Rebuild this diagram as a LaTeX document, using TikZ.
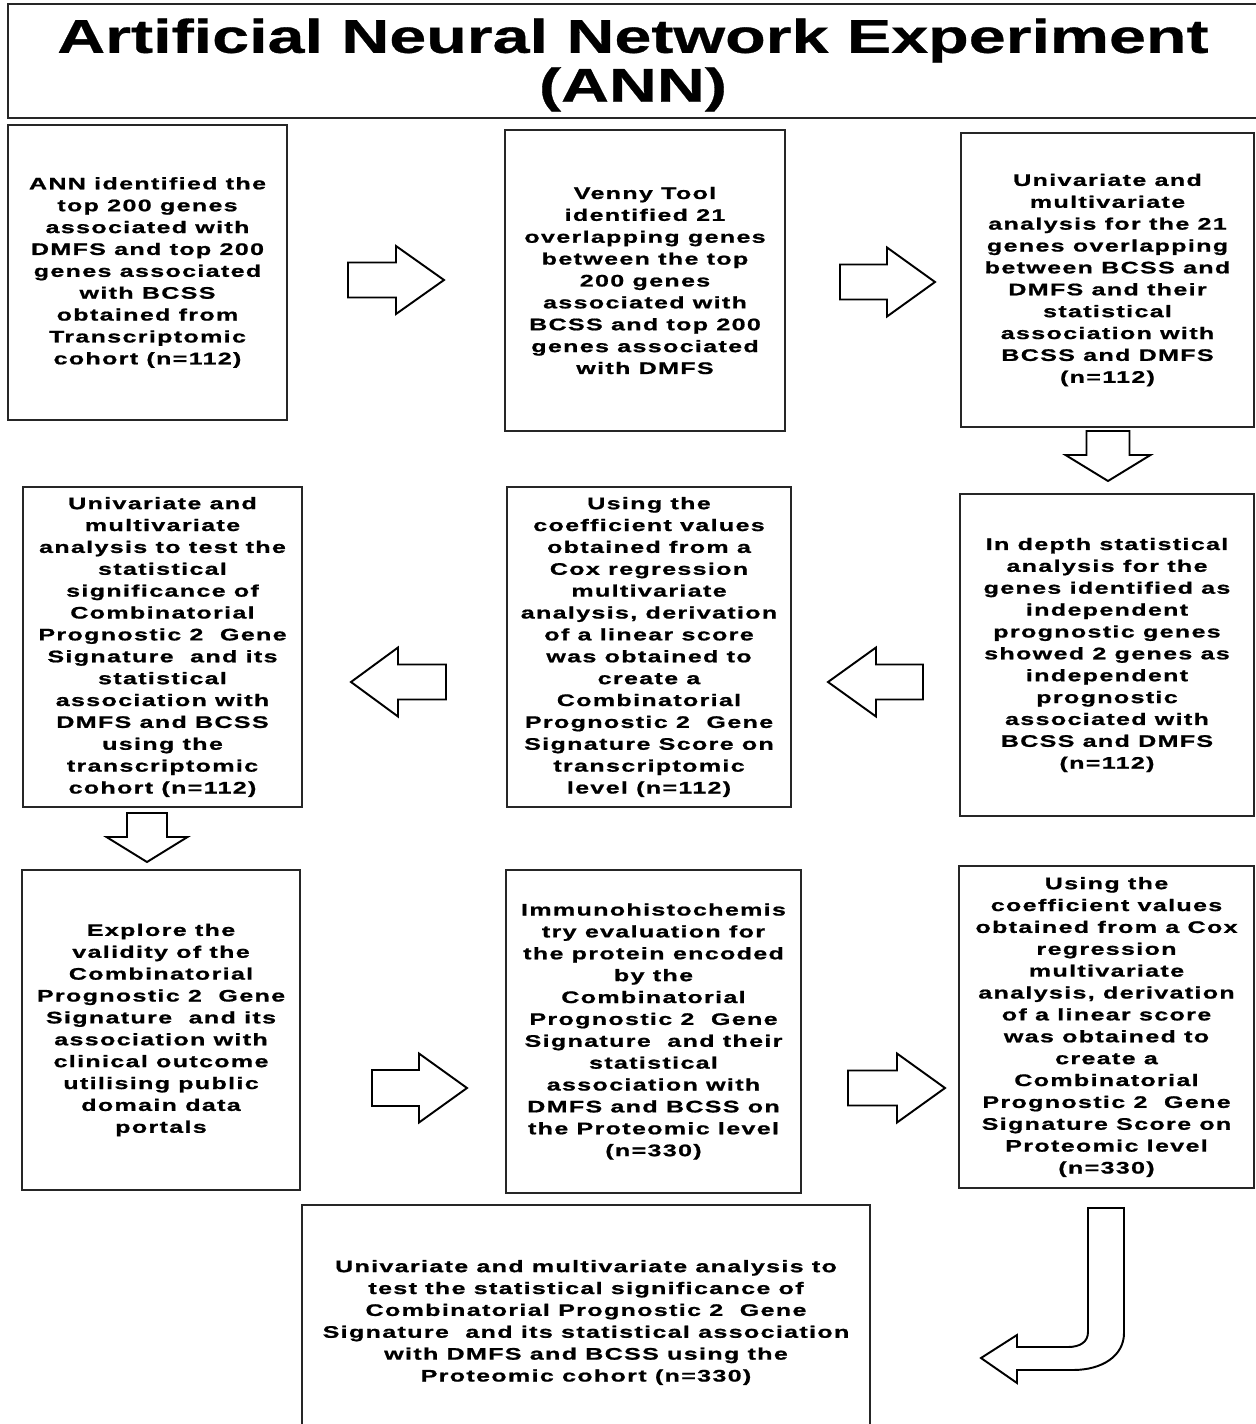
\documentclass[tikz,border=0pt]{standalone}
\usepackage{fontspec}
\newfontfamily\boxfont{Liberation Sans}[FakeStretch=1.5,LetterSpace=8,FakeBold=1]
\newfontfamily\titlefont{Liberation Sans}[FakeStretch=1.4,FakeBold=0.6]
\newcommand\px{0.02cm}
\tikzstyle{stepbox}=[draw=black!85, line width=1pt, inner sep=0pt, align=center,
  font=\boxfont\bfseries\fontsize{9.5}{12.45}\selectfont]
\tikzset{blockline/.style={draw=black, line width=1.1pt, fill=white, line join=miter}}
\tikzset{pics/blk/.style n args={4}{code={%
  \draw[blockline] (0,-#3) -- (#2,-#3) -- (#2,-#4) -- (#1,0) -- (#2,#4) -- (#2,#3) -- (0,#3) -- cycle;}}}

\begin{document}
\begin{tikzpicture}[x=\px, y=-\px]
  \useasboundingbox (0,0) rectangle (1256,1424);
  %% Title
  \draw[draw=black!85, line width=1pt] (8,4) rectangle (1258,118);
  \draw (633,65) node[align=center, inner sep=0pt,
    font=\titlefont\bfseries\fontsize{27}{27.8}\selectfont] (title)
    {Artificial Neural Network Experiment\\(ANN)};

  %% First row
  \draw (147.5,272.5) node[stepbox, minimum width=279*\px, minimum height=295*\px] (ann)
    {ANN identified the\\top 200 genes\\associated with\\DMFS and top 200\\genes associated\\with BCSS\\obtained from\\Transcriptomic\\cohort (n=112)};
  \draw (645,280.5) node[stepbox, minimum width=280*\px, minimum height=301*\px] (venny)
    {Venny Tool\\identified 21\\overlapping genes\\between the top\\200 genes\\associated with\\BCSS and top 200\\genes associated\\with DMFS};
  \draw (1107.5,280) node[stepbox, minimum width=293*\px, minimum height=294*\px] (uniovl)
    {Univariate and\\multivariate\\analysis for the 21\\genes overlapping\\between BCSS and\\DMFS and their\\statistical\\association with\\BCSS and DMFS\\(n=112)};

  %% Second row
  \draw (162.5,647) node[stepbox, minimum width=279*\px, minimum height=320*\px] (unitrans)
    {Univariate and\\multivariate\\analysis to test the\\statistical\\significance of\\Combinatorial\\Prognostic 2~ Gene\\Signature~ and its\\statistical\\association with\\DMFS and BCSS\\using the\\transcriptomic\\cohort (n=112)};
  \draw (649,647) node[stepbox, minimum width=284*\px, minimum height=320*\px] (scoretrans)
    {Using the\\coefficient values\\obtained from a\\Cox regression\\multivariate\\analysis, derivation\\of a linear score\\was obtained to\\create a\\Combinatorial\\Prognostic 2~ Gene\\Signature Score on\\transcriptomic\\level (n=112)};
  \draw (1107,655) node[stepbox, minimum width=294*\px, minimum height=322*\px] (indep)
    {In depth statistical\\analysis for the\\genes identified as\\independent\\prognostic genes\\showed 2 genes as\\independent\\prognostic\\associated with\\BCSS and DMFS\\(n=112)};

  %% Third row
  \draw (161,1030) node[stepbox, minimum width=278*\px, minimum height=320*\px] (explore)
    {Explore the\\validity of the\\Combinatorial\\Prognostic 2~ Gene\\Signature~ and its\\association with\\clinical outcome\\utilising public\\domain data\\portals};
  \draw (653.5,1031.5) node[stepbox, minimum width=295*\px, minimum height=323*\px] (ihc)
    {Immunohistochemis\\try evaluation for\\the protein encoded\\by the\\Combinatorial\\Prognostic 2~ Gene\\Signature~ and their\\statistical\\association with\\DMFS and BCSS on\\the Proteomic level\\(n=330)};
  \draw (1106.5,1027) node[stepbox, minimum width=295*\px, minimum height=322*\px] (scoreprot)
    {Using the\\coefficient values\\obtained from a Cox\\regression\\multivariate\\analysis, derivation\\of a linear score\\was obtained to\\create a\\Combinatorial\\Prognostic 2~ Gene\\Signature Score on\\Proteomic level\\(n=330)};

  %% Last row
  \draw (586,1322.5) node[stepbox, minimum width=568*\px, minimum height=235*\px] (uniprot)
    {Univariate and multivariate analysis to\\test the statistical significance of\\Combinatorial Prognostic 2~ Gene\\Signature~ and its statistical association\\with DMFS and BCSS using the\\Proteomic cohort (n=330)};

  %% Block arrows
  \pic at (348,280) {blk={96}{48}{17.5}{34}};
  \pic at (840,282) {blk={95}{47}{17.5}{34.5}};
  \pic[rotate=-90] at (1108,431) {blk={50}{24}{21.5}{42.5}};
  \pic[rotate=180] at (923,682) {blk={95}{47}{17.5}{34.5}};
  \pic[rotate=180] at (446,682) {blk={95}{48}{17.5}{34.5}};
  \pic[rotate=-90] at (147,813) {blk={49}{24}{20}{40.5}};
  \pic at (372,1088) {blk={95}{47}{18}{34.5}};
  \pic at (848,1088) {blk={97}{49}{17.5}{34.5}};

  %% Bent arrow
  \draw[blockline] (1088,1208) -- (1124,1208) -- (1124,1333)
    .. controls (1124,1356) and (1102,1370) .. (1073,1370)
    -- (1017,1370) -- (1017,1383) -- (981,1358) -- (1017,1335) -- (1017,1347) -- (1068,1347)
    .. controls (1080,1347) and (1088,1342) .. (1088,1332) -- cycle;
\end{tikzpicture}
\end{document}
